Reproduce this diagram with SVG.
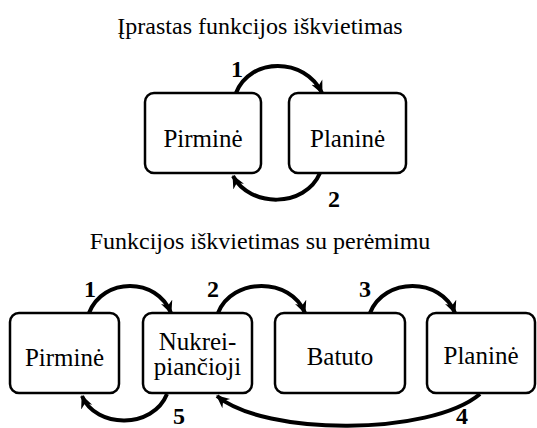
<svg xmlns="http://www.w3.org/2000/svg" width="537" height="428" viewBox="0 0 537 428">
<defs>
<style>
.box{fill:#fff;stroke:#000;stroke-width:2.5}
text{font-family:'Liberation Serif','DejaVu Serif',serif;fill:#000;text-anchor:middle}
.lbl{font-size:25px}
.ttl{font-size:24px}
.num{font-size:24px;font-weight:bold}
.arr{fill:none;stroke:#000;stroke-width:4;marker-end:url(#ah)}
</style>
<marker id="ah" markerUnits="userSpaceOnUse" markerWidth="14" markerHeight="14" viewBox="0 0 14 14" refX="12" refY="7" orient="auto">
<path d="M0,1 L13,7 L0,13 L4,7 z" fill="#000"/>
</marker>
</defs>
<rect width="537" height="428" fill="#fff"/>
<text class="ttl" x="260" y="34">Įprastas funkcijos iškvietimas</text>
<text class="ttl" x="260" y="249">Funkcijos iškvietimas su perėmimu</text>
<g id="top-pirmine"><rect class="box" x="145" y="93" width="116" height="80" rx="9"/><text class="lbl" x="203" y="147">Pirminė</text></g>
<g id="top-planine"><rect class="box" x="289" y="93" width="117" height="80" rx="9"/><text class="lbl" x="347.5" y="147">Planinė</text></g>
<g id="bot-pirmine"><rect class="box" x="10" y="313" width="109" height="80" rx="9"/><text class="lbl" x="64.5" y="366">Pirminė</text></g>
<g id="bot-nukreipiancioji"><rect class="box" x="143" y="313" width="109" height="80" rx="9"/><text class="lbl" x="197.5" y="350" font-size="24">Nukrei-</text><text class="lbl" x="197.5" y="375" font-size="24">piančioji</text></g>
<g id="bot-batuto"><rect class="box" x="275" y="313" width="130" height="80" rx="9"/><text class="lbl" x="340" y="365">Batuto</text></g>
<g id="bot-planine"><rect class="box" x="427" y="313" width="108" height="80" rx="9"/><text class="lbl" x="481" y="364">Planinė</text></g>
<g id="connectors">
<path class="arr" d="M236,93 C250,57 305,57 322,93"/>
<path class="arr" d="M320,173 C305,208 250,208 233,176"/>
<path class="arr" d="M89,313 C103,277 157,277 171,313"/>
<path class="arr" d="M218,313 C232,277 291,277 305,313"/>
<path class="arr" d="M370,313 C384,277 441,277 455,313"/>
<path class="arr" d="M480,394 C430,436 265,436 217,396"/>
<path class="arr" d="M167,394 C153,429 96,429 82,396"/>
<text class="num" x="237" y="77">1</text>
<text class="num" x="334" y="207">2</text>
<text class="num" x="90" y="297">1</text>
<text class="num" x="213" y="297">2</text>
<text class="num" x="365" y="297">3</text>
<text class="num" x="462" y="424">4</text>
<text class="num" x="179" y="424">5</text>
</g>
</svg>
